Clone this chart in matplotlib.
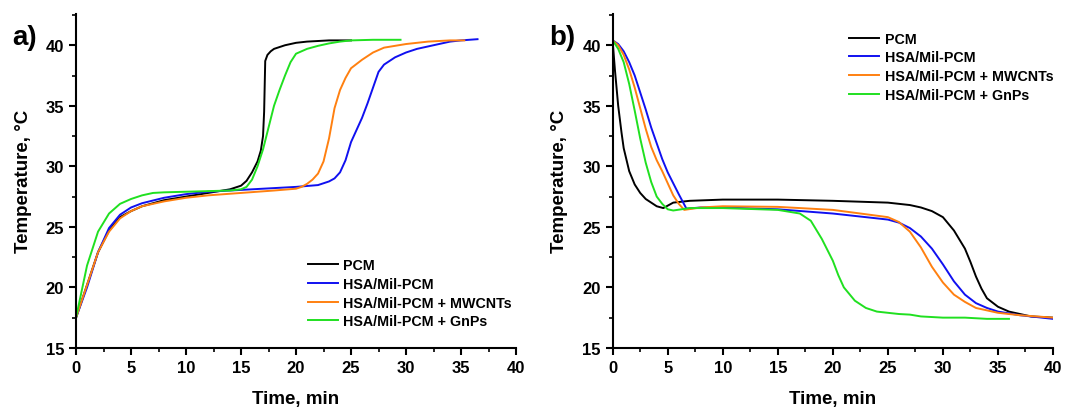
import matplotlib
matplotlib.use("Agg")
import matplotlib.pyplot as plt
import numpy as np
from matplotlib.ticker import MultipleLocator

plt.rcParams["font.family"] = ["Liberation Sans", "DejaVu Sans"]
plt.rcParams["font.weight"] = "bold"

labels = ["PCM", "HSA/Mil-PCM", "HSA/Mil-PCM + MWCNTs", "HSA/Mil-PCM + GnPs"]
colors = ["#000000", "#1010f0", "#ff8010", "#20e020"]

# a) charging
t_pcm_a = [0, 1, 2, 3, 4, 5, 6, 8, 10, 12, 14, 15, 15.5, 16, 16.5, 16.8, 17.0, 17.1, 17.2, 17.4, 17.7, 18, 18.5, 19, 20, 21, 22, 23, 25]
T_pcm_a = [17.5, 20.2, 22.9, 24.7, 25.8, 26.3, 26.7, 27.2, 27.5, 27.8, 28.1, 28.4, 28.8, 29.5, 30.4, 31.3, 32.5, 34.5, 38.7, 39.2, 39.5, 39.7, 39.85, 40.0, 40.2, 40.3, 40.35, 40.4, 40.4]

t_hsa_a = [0, 1, 2, 3, 4, 5, 6, 8, 10, 12, 15, 18, 20, 22, 23, 23.5, 24, 24.5, 25, 25.5, 26, 26.5, 27, 27.5, 28, 29, 30, 31, 32, 33, 34, 35, 36.5]
T_hsa_a = [17.5, 20.0, 22.9, 24.9, 26.0, 26.6, 26.95, 27.4, 27.7, 27.9, 28.05, 28.2, 28.3, 28.45, 28.75, 29.0, 29.5, 30.5, 32.0, 33.0, 34.0, 35.2, 36.5, 37.8, 38.4, 39.0, 39.4, 39.7, 39.9, 40.1, 40.3, 40.4, 40.5]

t_mw_a = [0, 1, 2, 3, 4, 5, 6, 8, 10, 12, 15, 18, 20, 20.5, 21, 21.5, 22, 22.5, 23, 23.5, 24, 24.5, 25, 26, 27, 28, 30, 32, 34, 35.3]
T_mw_a = [17.5, 20.2, 22.9, 24.6, 25.7, 26.3, 26.7, 27.1, 27.4, 27.6, 27.8, 28.0, 28.15, 28.3, 28.55, 28.9, 29.4, 30.4, 32.3, 34.8, 36.3, 37.3, 38.1, 38.8, 39.4, 39.8, 40.1, 40.3, 40.4, 40.4]

t_gnp_a = [0, 1, 2, 3, 4, 5, 6, 7, 8, 10, 12, 14, 15, 15.5, 16, 16.5, 17, 17.5, 18, 18.5, 19, 19.5, 20, 20.5, 21, 22, 23, 24, 25, 27, 29.5]
T_gnp_a = [17.5, 21.8, 24.6, 26.1, 26.9, 27.3, 27.6, 27.8, 27.85, 27.9, 27.95, 28.0, 28.1, 28.3, 28.9, 30.0, 31.4, 33.2, 35.0, 36.3, 37.5, 38.6, 39.3, 39.5, 39.7, 39.95, 40.15, 40.3, 40.4, 40.45, 40.45]

# b) discharging
t_pcm_b = [0, 0.2, 0.5, 0.8, 1.0, 1.5, 2, 2.5, 3, 3.5, 4, 4.6, 5, 5.5, 7, 10, 15, 20, 25, 27, 28, 29, 30, 31, 32, 32.5, 33, 33.5, 34, 35, 36, 37, 38, 40]
T_pcm_b = [40.3, 38.0, 35.0, 32.8, 31.5, 29.6, 28.5, 27.8, 27.3, 27.0, 26.7, 26.55, 26.75, 27.0, 27.15, 27.25, 27.25, 27.15, 27.0, 26.8, 26.6, 26.3, 25.8, 24.7, 23.2, 22.1, 20.9, 19.9, 19.1, 18.4, 18.0, 17.8, 17.6, 17.5]

t_hsa_b = [0, 0.5, 1, 1.5, 2, 2.5, 3, 3.5, 4, 4.5, 5, 5.5, 6, 6.7, 8, 10, 15, 20, 25, 26, 27, 28, 29, 30, 31, 32, 33, 34, 35, 37, 40]
T_hsa_b = [40.4, 40.1, 39.5, 38.6, 37.5, 36.1, 34.7, 33.2, 31.9, 30.6, 29.5, 28.6, 27.7, 26.5, 26.6, 26.6, 26.45, 26.1, 25.6, 25.35, 24.9, 24.2, 23.2, 21.9, 20.5, 19.4, 18.7, 18.3, 18.0, 17.7, 17.4]

t_mw_b = [0, 0.5, 1, 1.5, 2, 2.5, 3, 3.5, 4, 4.5, 5, 5.5, 6, 6.5, 8, 10, 15, 20, 25, 26, 27, 28, 29, 30, 31, 32, 33, 35, 37, 40]
T_mw_b = [40.4, 40.0, 39.2, 38.0, 36.5, 34.8, 33.1, 31.6, 30.5, 29.6, 28.6, 27.6, 26.9, 26.4, 26.6, 26.7, 26.65, 26.4, 25.8, 25.4, 24.6, 23.3, 21.7, 20.4, 19.4, 18.8, 18.3, 17.9, 17.7, 17.5]

t_gnp_b = [0, 0.5, 1, 1.5, 2, 2.5, 3, 3.5, 4, 4.5, 5, 5.5, 7, 10, 15, 17, 18, 19, 20, 20.5, 21, 22, 23, 24, 26, 27, 28, 30, 32, 34, 36]
T_gnp_b = [40.4, 39.7, 38.6, 36.8, 34.6, 32.3, 30.3, 28.7, 27.5, 26.9, 26.45, 26.35, 26.55, 26.55, 26.4, 26.1, 25.5, 24.0, 22.2, 21.0, 20.0, 18.9, 18.3, 18.0, 17.8, 17.75, 17.6, 17.5, 17.5, 17.4, 17.4]

panel_a = [(t_pcm_a, T_pcm_a), (t_hsa_a, T_hsa_a), (t_mw_a, T_mw_a), (t_gnp_a, T_gnp_a)]
panel_b = [(t_pcm_b, T_pcm_b), (t_hsa_b, T_hsa_b), (t_mw_b, T_mw_b), (t_gnp_b, T_gnp_b)]


def draw_panel(ax, series, tag, legend_loc, legend_anchor):
    for (t, T), lab, c in zip(series, labels, colors):
        ax.plot(t, T, color=c, lw=1.4, label=lab)
    ax.set(xlim=(0, 40), ylim=(15, 42.6))
    ax.xaxis.set_major_locator(MultipleLocator(5))
    ax.xaxis.set_minor_locator(MultipleLocator(2.5))
    ax.yaxis.set_major_locator(MultipleLocator(5))
    ax.yaxis.set_minor_locator(MultipleLocator(2.5))
    for s in ["top", "right"]:
        ax.spines[s].set_visible(False)
    for s in ["left", "bottom"]:
        ax.spines[s].set_linewidth(1.5)
    ax.tick_params(which="major", direction="out", length=5, width=1.5, labelsize=12)
    ax.tick_params(which="minor", direction="out", length=3, width=1.2)
    for lbl in ax.get_xticklabels() + ax.get_yticklabels():
        lbl.set_fontweight("bold")
    ax.set_xlabel("Time, min", fontsize=13.5, fontweight="bold", labelpad=11)
    ax.set_ylabel("Temperature, °C", fontsize=13.5, fontweight="bold", labelpad=10)
    ax.legend(loc=legend_loc, bbox_to_anchor=legend_anchor, frameon=False,
              prop={"size": 10.3, "weight": "bold"}, handlelength=2.1,
              handletextpad=0.4, labelspacing=0.33)
    ax.text(-0.145, 0.93, tag, transform=ax.transAxes, fontsize=20,
            fontweight="bold", ha="left", va="center")


fig = plt.figure(figsize=(10.8, 4.1), dpi=100)
ax1 = fig.add_axes([0.0704, 0.149, 0.4074, 0.815])
ax2 = fig.add_axes([0.5673, 0.149, 0.4077, 0.815])

draw_panel(ax1, panel_a, "a)", "lower right", (1.02, 0.02))
draw_panel(ax2, panel_b, "b)", "upper right", (1.03, 0.985))

fig.savefig("out.png", dpi=100)
